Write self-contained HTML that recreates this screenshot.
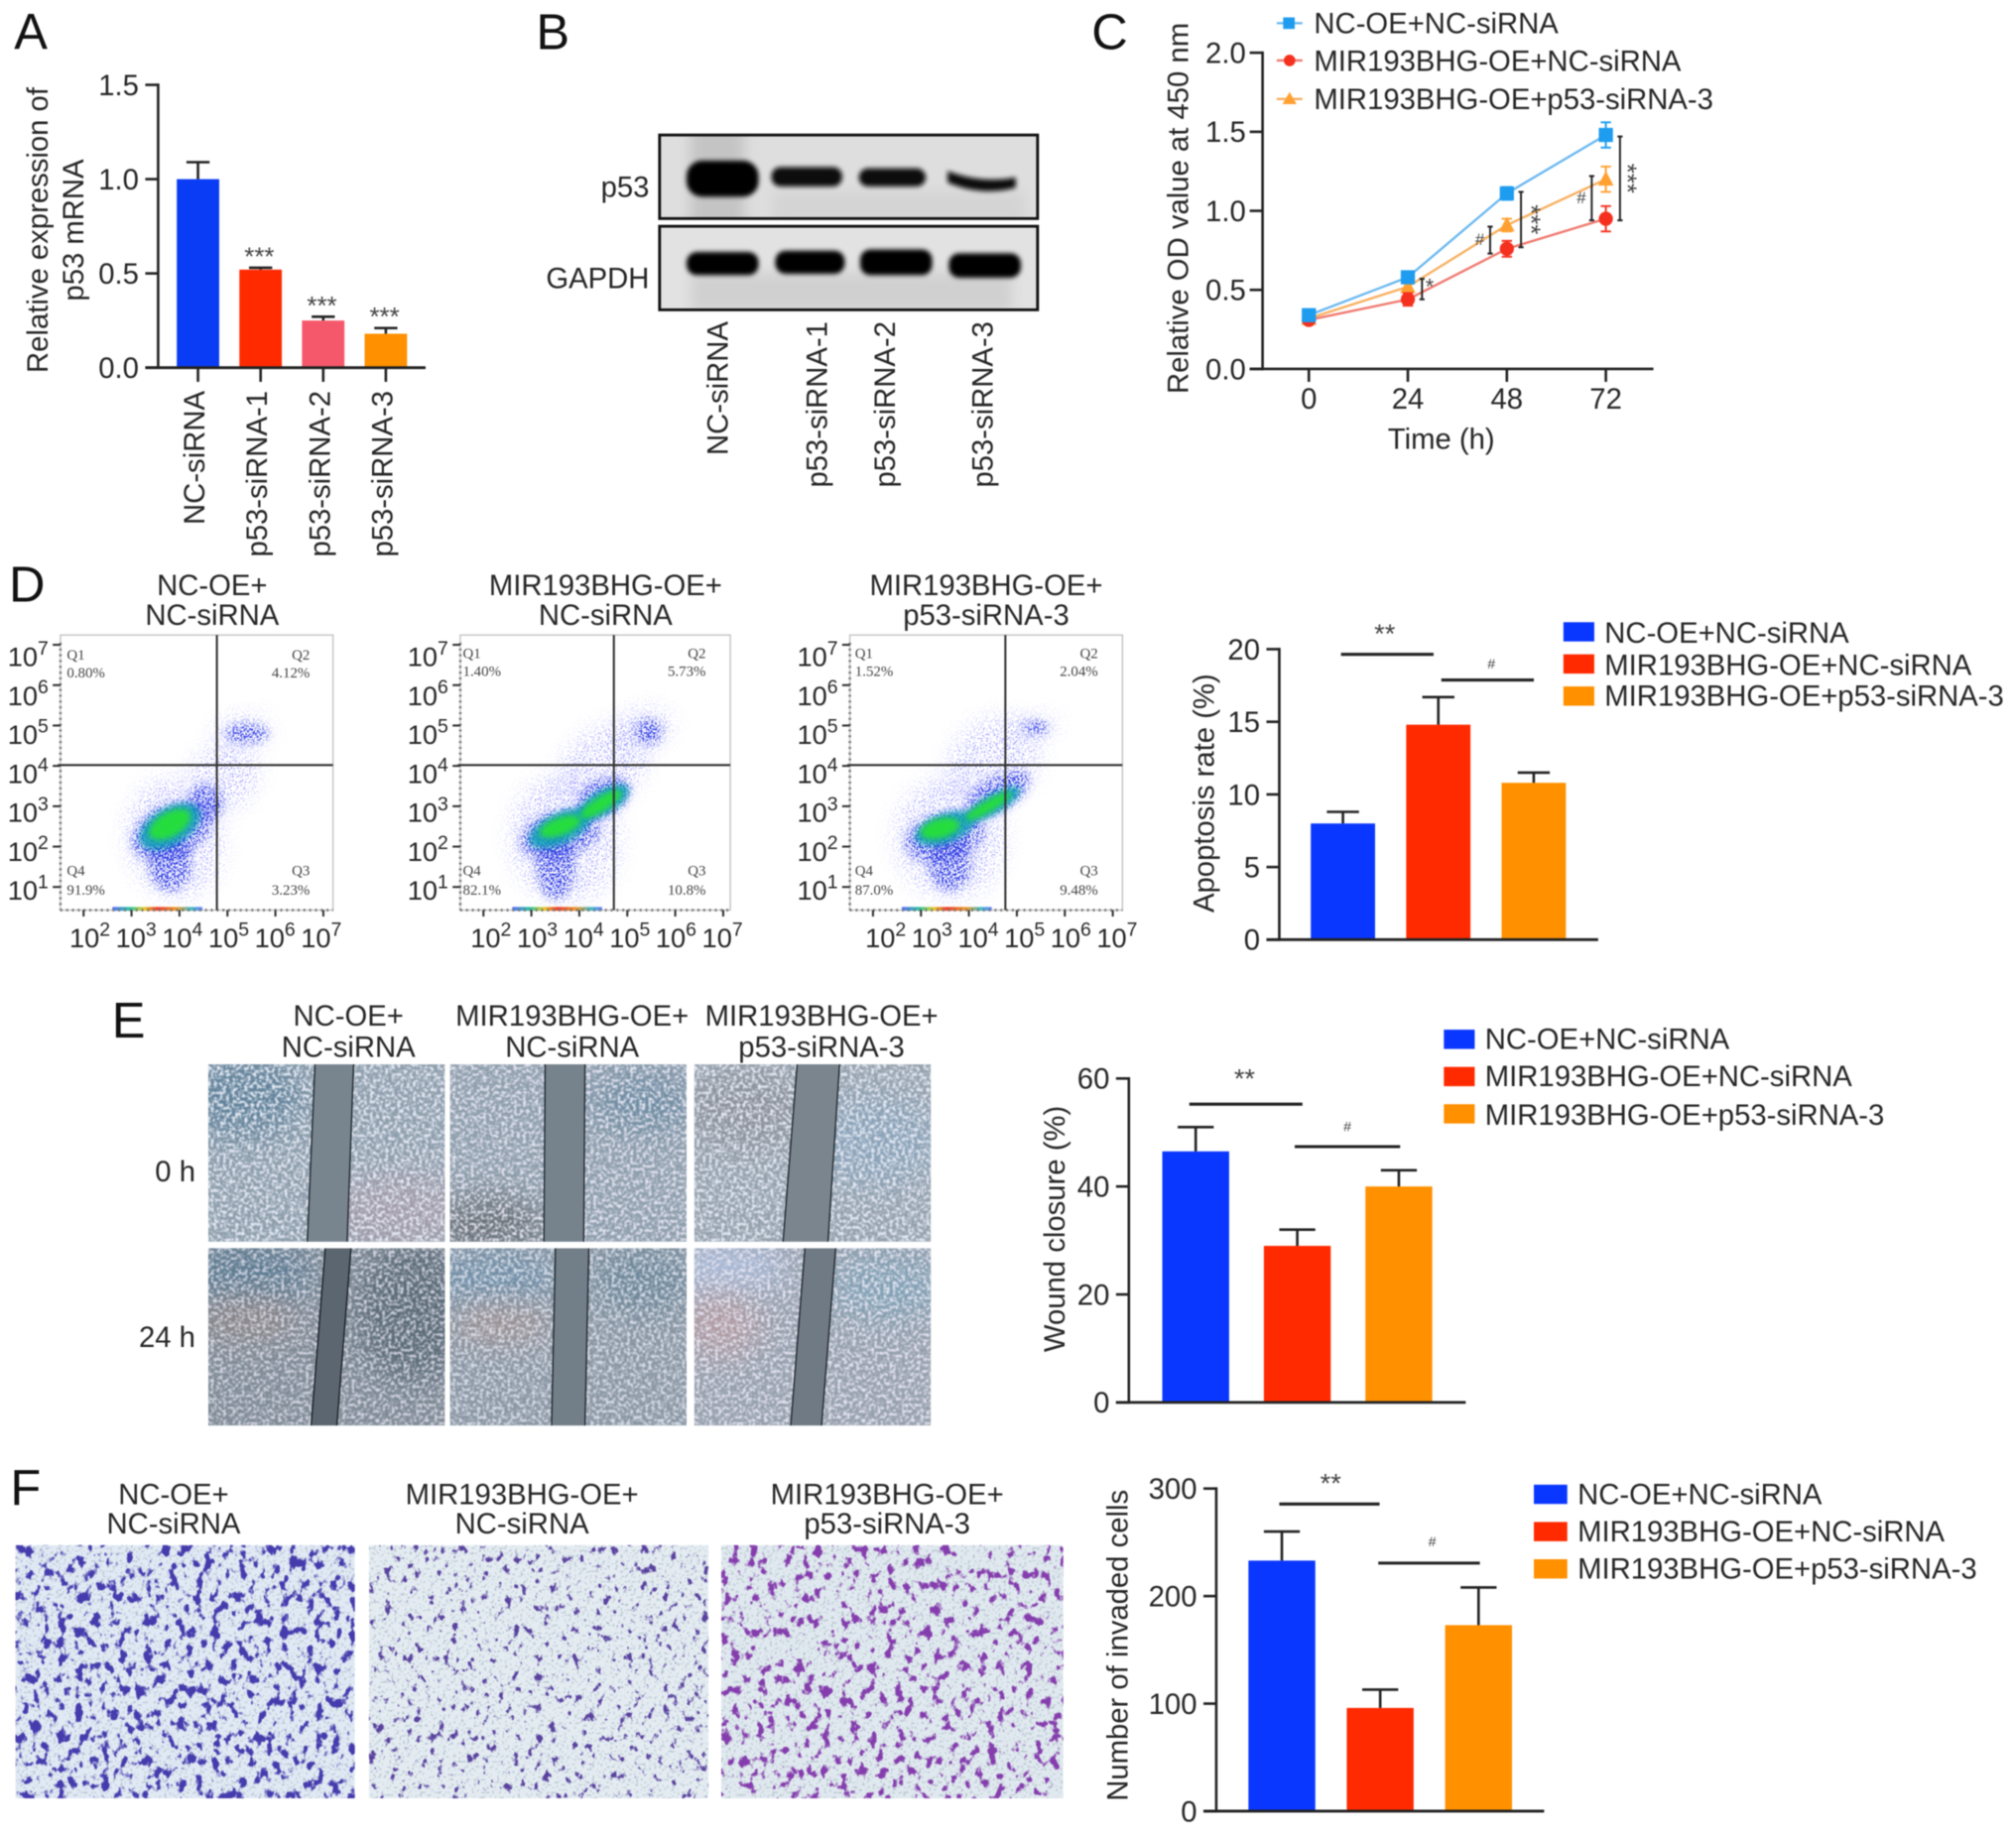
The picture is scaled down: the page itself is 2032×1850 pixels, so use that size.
<!DOCTYPE html>
<html lang="en">
<head>
<meta charset="utf-8">
<title>Multi-panel figure</title>
<style>
html,body{margin:0;padding:0;background:#fff;width:2032px;height:1850px;overflow:hidden}
svg#figure{display:block;filter:blur(.6px)}
text{font-family:"Liberation Sans",sans-serif;fill:#262626;font-size:22.6px}
.letter{font-size:39px;fill:#111}
.q{font-family:"Liberation Serif",serif;font-size:11.5px;fill:#444}
</style>
</head>
<body>
<svg id="figure" xmlns="http://www.w3.org/2000/svg" width="2032" height="1850" viewBox="0 0 1568 1427.5">
<defs>
  <filter id="blur3" x="-40%" y="-100%" width="180%" height="300%"><feGaussianBlur stdDeviation="5"/></filter>
  <filter id="blur2" x="-30%" y="-100%" width="160%" height="300%"><feGaussianBlur stdDeviation="1.8"/></filter>
  <filter id="blurFlow" x="-60%" y="-60%" width="220%" height="220%"><feGaussianBlur stdDeviation="2.2"/></filter>
  <filter id="blurBig" x="-60%" y="-60%" width="220%" height="220%"><feGaussianBlur stdDeviation="12"/></filter>
  <filter id="blurPatch" x="-60%" y="-60%" width="220%" height="220%"><feGaussianBlur stdDeviation="7"/></filter>
  <filter id="speckleFlow" x="-40%" y="-40%" width="180%" height="180%" color-interpolation-filters="sRGB">
    <feGaussianBlur in="SourceGraphic" stdDeviation="8" result="b"/>
    <feTurbulence type="fractalNoise" baseFrequency="0.85" numOctaves="1" seed="5"/>
    <feColorMatrix values="0 0 0 0 0 0 0 0 0 0 0 0 0 0 0 11 0 0 0 -6.2" result="n"/>
    <feComposite in="b" in2="n" operator="in"/>
  </filter>
  <filter id="speckleMid" x="-40%" y="-40%" width="180%" height="180%" color-interpolation-filters="sRGB">
    <feGaussianBlur in="SourceGraphic" stdDeviation="3.5" result="b"/>
    <feTurbulence type="fractalNoise" baseFrequency="0.7" numOctaves="1" seed="9"/>
    <feColorMatrix values="0 0 0 0 0 0 0 0 0 0 0 0 0 0 0 9 0 0 0 -4.3" result="n"/>
    <feComposite in="b" in2="n" operator="in"/>
  </filter>
  <filter id="speckleA" x="0" y="0" width="100%" height="100%" color-interpolation-filters="sRGB">
    <feTurbulence type="fractalNoise" baseFrequency="0.42" numOctaves="2" seed="3"/>
    <feColorMatrix values="0 0 0 0 .90 0 0 0 0 .92 0 0 0 0 .96 5 0 0 0 -2.25"/>
    <feGaussianBlur stdDeviation=".35"/>
  </filter>
  <filter id="speckleB" x="0" y="0" width="100%" height="100%" color-interpolation-filters="sRGB">
    <feTurbulence type="fractalNoise" baseFrequency="0.42" numOctaves="2" seed="11"/>
    <feColorMatrix values="0 0 0 0 .90 0 0 0 0 .90 0 0 0 0 .95 5 0 0 0 -2.3"/>
    <feGaussianBlur stdDeviation=".35"/>
  </filter>
  <filter id="cellsBlue" x="0" y="0" width="100%" height="100%" color-interpolation-filters="sRGB">
    <feTurbulence type="fractalNoise" baseFrequency="0.15 0.11" numOctaves="3" seed="8"/>
    <feColorMatrix values="0 0 0 0 .27 0 0 0 0 .23 0 0 0 0 .68 10 0 0 0 -5.5"/>
  </filter>
  <filter id="cellsThin" x="0" y="0" width="100%" height="100%" color-interpolation-filters="sRGB">
    <feTurbulence type="fractalNoise" baseFrequency="0.17 0.13" numOctaves="3" seed="21"/>
    <feColorMatrix values="0 0 0 0 .35 0 0 0 0 .26 0 0 0 0 .62 10 0 0 0 -6.2"/>
  </filter>
  <filter id="cellsPurple" x="0" y="0" width="100%" height="100%" color-interpolation-filters="sRGB">
    <feTurbulence type="fractalNoise" baseFrequency="0.14 0.11" numOctaves="3" seed="34"/>
    <feColorMatrix values="0 0 0 0 .52 0 0 0 0 .24 0 0 0 0 .68 10 0 0 0 -5.8"/>
  </filter>
  <filter id="grain" x="0" y="0" width="100%" height="100%" color-interpolation-filters="sRGB">
    <feTurbulence type="fractalNoise" baseFrequency="0.5" numOctaves="1" seed="2"/>
    <feColorMatrix values="0 0 0 0 .5 0 0 0 0 .58 0 0 0 0 .64 6 0 0 0 -3.3"/>
  </filter>
  <linearGradient id="rainbow" x1="0" x2="1" y1="0" y2="0">
    <stop offset="0" stop-color="#5a70ff"/><stop offset=".2" stop-color="#30c8a0"/><stop offset=".35" stop-color="#e8d030"/>
    <stop offset=".5" stop-color="#f04030"/><stop offset=".72" stop-color="#f0a030"/><stop offset=".88" stop-color="#40c0d0"/><stop offset="1" stop-color="#7080ff"/>
  </linearGradient>
</defs>

<!-- Panel letters -->
<text class="letter" x="11" y="38">A</text>
<text class="letter" x="417" y="38">B</text>
<text class="letter" x="849" y="38">C</text>
<text class="letter" x="7" y="468">D</text>
<text class="letter" x="87" y="807">E</text>
<text class="letter" x="8" y="1171">F</text>

<!-- Panel A static labels -->
<text transform="rotate(-90 37 179)" x="37" y="179" text-anchor="middle">Relative expression of</text>
<text transform="rotate(-90 65 179)" x="65" y="179" text-anchor="middle">p53 mRNA</text>

<!-- Panel B western blot -->
<g>
  <svg x="513" y="105" width="294" height="65" viewBox="0 0 294 65">
    <rect width="294" height="65" fill="#dedede"/>
    <rect x="24" y="-10" width="42" height="85" fill="#c4c4c4" filter="url(#blur3)"/>
    <rect x="88" y="44" width="196" height="25" fill="#d4d4d4" filter="url(#blur3)"/>
    <rect x="21" y="20" width="56" height="28" rx="12" fill="#000" filter="url(#blur2)"/>
    <rect x="87" y="25" width="55" height="15" rx="7" fill="#0a0a0a" filter="url(#blur2)"/>
    <rect x="155" y="26" width="52" height="14" rx="7" fill="#0a0a0a" filter="url(#blur2)"/>
    <path d="M224 28 Q250 38 277 33 L277 41 Q250 48 224 37Z" fill="#0a0a0a" filter="url(#blur2)"/>
  </svg>
  <rect x="513" y="105" width="294" height="65" fill="none" stroke="#111" stroke-width="2.2"/>
  <svg x="513" y="176" width="294" height="65" viewBox="0 0 294 65">
    <rect width="294" height="65" fill="#e2e2e2"/>
    <rect x="24" y="36" width="250" height="30" fill="#d0d0d0" filter="url(#blur3)"/>
    <rect x="21" y="20" width="56" height="18" rx="8" fill="#000" filter="url(#blur2)"/>
    <rect x="90" y="19" width="54" height="18" rx="8" fill="#000" filter="url(#blur2)"/>
    <rect x="156" y="18" width="56" height="20" rx="8" fill="#000" filter="url(#blur2)"/>
    <rect x="225" y="21" width="56" height="19" rx="8" fill="#000" filter="url(#blur2)"/>
  </svg>
  <rect x="513" y="176" width="294" height="65" fill="none" stroke="#111" stroke-width="2.2"/>
</g>
<text x="505" y="153" text-anchor="end">p53</text>
<text x="505" y="224" text-anchor="end">GAPDH</text>
<text transform="rotate(-90 566 250)" x="566" y="250" text-anchor="end">NC-siRNA</text>
<text transform="rotate(-90 643 250)" x="643" y="250" text-anchor="end">p53-siRNA-1</text>
<text transform="rotate(-90 696 250)" x="696" y="250" text-anchor="end">p53-siRNA-2</text>
<text transform="rotate(-90 772 250)" x="772" y="250" text-anchor="end">p53-siRNA-3</text>

<!-- Panel C static labels -->
<text transform="rotate(-90 924 162)" x="924" y="162" text-anchor="middle">Relative OD value at 450 nm</text>
<text x="1121" y="349" text-anchor="middle">Time (h)</text>
<g>
  <line x1="993" x2="1013" y1="18" y2="18" stroke="#6ab8f0" stroke-width="1.8"/>
  <rect x="998" y="13.5" width="9" height="9" fill="#1e9cf0"/>
  <text x="1022" y="26">NC-OE+NC-siRNA</text>
  <line x1="993" x2="1013" y1="47" y2="47" stroke="#f07a70" stroke-width="1.8"/>
  <circle cx="1003" cy="47" r="4.5" fill="#f5301e"/>
  <text x="1022" y="55">MIR193BHG-OE+NC-siRNA</text>
  <line x1="993" x2="1013" y1="77" y2="77" stroke="#f8b060" stroke-width="1.8"/>
  <path d="M1003 71.5 L1008.5 81 L997.5 81Z" fill="#ffa030"/>
  <text x="1022" y="85">MIR193BHG-OE+p53-siRNA-3</text>
</g>

<!-- Panel D titles -->
<text x="165" y="463" text-anchor="middle">NC-OE+</text>
<text x="165" y="486" text-anchor="middle">NC-siRNA</text>
<text x="471" y="463" text-anchor="middle">MIR193BHG-OE+</text>
<text x="471" y="486" text-anchor="middle">NC-siRNA</text>
<text x="767" y="463" text-anchor="middle">MIR193BHG-OE+</text>
<text x="767" y="486" text-anchor="middle">p53-siRNA-3</text>

<g id="flowLayer"></g>

<text class="q" x="52" y="513">Q1</text><text class="q" x="52" y="527">0.80%</text>
<text class="q" x="241" y="513" text-anchor="end">Q2</text><text class="q" x="241" y="527" text-anchor="end">4.12%</text>
<text class="q" x="52" y="681">Q4</text><text class="q" x="52" y="696">91.9%</text>
<text class="q" x="241" y="681" text-anchor="end">Q3</text><text class="q" x="241" y="696" text-anchor="end">3.23%</text>

<text class="q" x="360" y="512">Q1</text><text class="q" x="360" y="526">1.40%</text>
<text class="q" x="549" y="512" text-anchor="end">Q2</text><text class="q" x="549" y="526" text-anchor="end">5.73%</text>
<text class="q" x="360" y="681">Q4</text><text class="q" x="360" y="696">82.1%</text>
<text class="q" x="549" y="681" text-anchor="end">Q3</text><text class="q" x="549" y="696" text-anchor="end">10.8%</text>

<text class="q" x="665" y="512">Q1</text><text class="q" x="665" y="526">1.52%</text>
<text class="q" x="854" y="512" text-anchor="end">Q2</text><text class="q" x="854" y="526" text-anchor="end">2.04%</text>
<text class="q" x="665" y="681">Q4</text><text class="q" x="665" y="696">87.0%</text>
<text class="q" x="854" y="681" text-anchor="end">Q3</text><text class="q" x="854" y="696" text-anchor="end">9.48%</text>

<!-- Panel D bar chart labels -->
<text transform="rotate(-90 944 617)" x="944" y="617" text-anchor="middle">Apoptosis rate (%)</text>
<g>
  <rect x="1216" y="484" width="24" height="15" fill="#0a37ff"/>
  <text x="1248" y="500">NC-OE+NC-siRNA</text>
  <rect x="1216" y="509" width="24" height="15" fill="#ff2a00"/>
  <text x="1248" y="525">MIR193BHG-OE+NC-siRNA</text>
  <rect x="1216" y="534" width="24" height="15" fill="#ff9000"/>
  <text x="1248" y="549">MIR193BHG-OE+p53-siRNA-3</text>
</g>

<!-- Panel E micrographs -->
<text x="271" y="798" text-anchor="middle">NC-OE+</text>
<text x="271" y="822" text-anchor="middle">NC-siRNA</text>
<text x="445" y="798" text-anchor="middle">MIR193BHG-OE+</text>
<text x="445" y="822" text-anchor="middle">NC-siRNA</text>
<text x="639" y="798" text-anchor="middle">MIR193BHG-OE+</text>
<text x="639" y="822" text-anchor="middle">p53-siRNA-3</text>
<text x="152" y="919" text-anchor="end">0 h</text>
<text x="152" y="1048" text-anchor="end">24 h</text>

<svg x="162" y="828" width="184" height="138" viewBox="0 0 184 138">
  <rect width="184" height="138" fill="#8d9dab"/>
  <ellipse cx="25" cy="25" rx="50" ry="32" fill="#5f8098" filter="url(#blurBig)"/>
  <ellipse cx="150" cy="115" rx="60" ry="30" fill="#a09aa8" filter="url(#blurBig)"/>
  <rect width="184" height="138" filter="url(#speckleA)"/>
  <polygon points="83,0 113,0 108,138 77,138" fill="#78858f"/>
  <path d="M83 0 L77 138 M113 0 L108 138" stroke="#1c2228" stroke-width="1" fill="none"/>
</svg>
<svg x="350" y="828" width="184" height="138" viewBox="0 0 184 138">
  <rect width="184" height="138" fill="#8e9eac"/>
  <ellipse cx="30" cy="125" rx="45" ry="22" fill="#687074" filter="url(#blurBig)"/>
  <ellipse cx="150" cy="30" rx="40" ry="22" fill="#6c8aa0" filter="url(#blurBig)"/>
  <rect width="184" height="138" filter="url(#speckleB)"/>
  <polygon points="74,0 105,0 104,138 73,138" fill="#76838d"/>
  <path d="M74 0 L73 138 M105 0 L104 138" stroke="#1c2228" stroke-width="1" fill="none"/>
</svg>
<svg x="540" y="828" width="184" height="138" viewBox="0 0 184 138">
  <rect width="184" height="138" fill="#94a0ac"/>
  <ellipse cx="40" cy="35" rx="50" ry="28" fill="#8a8f98" filter="url(#blurBig)"/>
  <ellipse cx="140" cy="60" rx="50" ry="35" fill="#8aa2b8" filter="url(#blurBig)"/>
  <rect width="184" height="138" filter="url(#speckleA)"/>
  <polygon points="80,0 113,0 104,138 69,138" fill="#7a858e"/>
  <path d="M80 0 L69 138 M113 0 L104 138" stroke="#1c2228" stroke-width="1" fill="none"/>
</svg>
<svg x="162" y="971" width="184" height="138" viewBox="0 0 184 138">
  <rect width="184" height="138" fill="#7e8a95"/>
  <ellipse cx="30" cy="20" rx="55" ry="26" fill="#5d7a90" filter="url(#blurBig)"/>
  <ellipse cx="160" cy="50" rx="45" ry="55" fill="#5a6a76" filter="url(#blurBig)"/>
  <ellipse cx="30" cy="55" rx="40" ry="15" fill="#8d8585" filter="url(#blurBig)"/>
  <rect width="184" height="138" filter="url(#speckleB)" opacity=".85"/>
  <polygon points="91,0 111,0 100,138 80,138" fill="#5c6670"/>
  <path d="M91 0 L80 138 M111 0 L100 138" stroke="#151a1f" stroke-width="1" fill="none"/>
</svg>
<svg x="350" y="971" width="184" height="138" viewBox="0 0 184 138">
  <rect width="184" height="138" fill="#8995a2"/>
  <ellipse cx="35" cy="25" rx="50" ry="24" fill="#6f8da5" filter="url(#blurBig)"/>
  <ellipse cx="150" cy="25" rx="40" ry="24" fill="#6a8496" filter="url(#blurBig)"/>
  <ellipse cx="40" cy="58" rx="40" ry="14" fill="#a09090" filter="url(#blurBig)"/>
  <rect width="184" height="138" filter="url(#speckleA)" opacity=".85"/>
  <polygon points="82,0 108,0 105,138 79,138" fill="#727e88"/>
  <path d="M82 0 L79 138 M108 0 L105 138" stroke="#1c2228" stroke-width="1" fill="none"/>
</svg>
<svg x="540" y="971" width="184" height="138" viewBox="0 0 184 138">
  <rect width="184" height="138" fill="#959fac"/>
  <ellipse cx="25" cy="15" rx="45" ry="22" fill="#a8b8d4" filter="url(#blurBig)"/>
  <ellipse cx="20" cy="60" rx="32" ry="24" fill="#b09aa0" filter="url(#blurBig)"/>
  <ellipse cx="150" cy="30" rx="45" ry="26" fill="#80a0b4" filter="url(#blurBig)"/>
  <rect width="184" height="138" filter="url(#speckleB)"/>
  <polygon points="86,0 110,0 99,138 75,138" fill="#6f7a84"/>
  <path d="M86 0 L75 138 M110 0 L99 138" stroke="#1c2228" stroke-width="1" fill="none"/>
</svg>

<!-- Panel E chart labels -->
<text transform="rotate(-90 828 956)" x="828" y="956" text-anchor="middle">Wound closure (%)</text>
<g>
  <rect x="1123" y="801" width="24" height="15" fill="#0a37ff"/>
  <text x="1155" y="816">NC-OE+NC-siRNA</text>
  <rect x="1123" y="830" width="24" height="15" fill="#ff2a00"/>
  <text x="1155" y="845">MIR193BHG-OE+NC-siRNA</text>
  <rect x="1123" y="859" width="24" height="15" fill="#ff9000"/>
  <text x="1155" y="875">MIR193BHG-OE+p53-siRNA-3</text>
</g>

<!-- Panel F micrographs -->
<text x="135" y="1170" text-anchor="middle">NC-OE+</text>
<text x="135" y="1193" text-anchor="middle">NC-siRNA</text>
<text x="406" y="1170" text-anchor="middle">MIR193BHG-OE+</text>
<text x="406" y="1193" text-anchor="middle">NC-siRNA</text>
<text x="690" y="1170" text-anchor="middle">MIR193BHG-OE+</text>
<text x="690" y="1193" text-anchor="middle">p53-siRNA-3</text>

<svg x="12" y="1202" width="264" height="197" viewBox="0 0 264 197">
  <rect width="264" height="197" fill="#e0e9f4"/>
  <rect width="264" height="197" filter="url(#grain)" opacity=".4"/>
  <rect width="264" height="197" filter="url(#cellsBlue)"/>
</svg>
<svg x="287" y="1202" width="264" height="197" viewBox="0 0 264 197">
  <rect width="264" height="197" fill="#e4ecf2"/>
  <rect width="264" height="197" filter="url(#grain)" opacity=".4"/>
  <rect width="264" height="197" filter="url(#cellsThin)"/>
</svg>
<svg x="561" y="1202" width="266" height="197" viewBox="0 0 266 197">
  <rect width="266" height="197" fill="#e0e9ef"/>
  <rect width="266" height="197" filter="url(#grain)" opacity=".4"/>
  <rect width="266" height="197" filter="url(#cellsPurple)"/>
</svg>

<!-- Panel F chart labels -->
<text transform="rotate(-90 877 1280)" x="877" y="1280" text-anchor="middle">Number of invaded cells</text>
<g>
  <rect x="1193" y="1155" width="26" height="15" fill="#0a37ff"/>
  <text x="1227" y="1170">NC-OE+NC-siRNA</text>
  <rect x="1193" y="1184" width="26" height="15" fill="#ff2a00"/>
  <text x="1227" y="1199">MIR193BHG-OE+NC-siRNA</text>
  <rect x="1193" y="1213" width="26" height="15" fill="#ff9000"/>
  <text x="1227" y="1228">MIR193BHG-OE+p53-siRNA-3</text>
</g>

<g id="chartLayer"></g>
</svg>

<script>
/* ---------- Panel A data ---------- */
const aCategories = ['NC-siRNA', 'p53-siRNA-1', 'p53-siRNA-2', 'p53-siRNA-3'];
const aValues = [1.0, 0.52, 0.25, 0.18];
const aErrorTops = [1.09, 0.53, 0.27, 0.21];
const aStars = ['', '***', '***', '***'];
const aTicks = [0, 0.5, 1.0, 1.5];
const aTickLabels = ['0.0', '0.5', '1.0', '1.5'];
const aColors = ['#0a3cf5', '#ff2a00', '#f5586a', '#ff9000'];

/* ---------- Panel C data ---------- */
const cTimes = [0, 24, 48, 72];
const cTimeLabels = ['0', '24', '48', '72'];
const cBlue = [0.34, 0.58, 1.11, 1.48];
const cRed = [0.31, 0.44, 0.76, 0.95];
const cOrange = [0.32, 0.52, 0.91, 1.20];
const cBlueErr = [0.03, 0.02, 0.04, 0.08];
const cRedErr = [0.02, 0.04, 0.05, 0.08];
const cOrangeErr = [0.02, 0.02, 0.04, 0.08];
const cTicks = [0, 0.5, 1.0, 1.5, 2.0];
const cTickLabels = ['0.0', '0.5', '1.0', '1.5', '2.0'];

/* ---------- Panel D, E, F bar data ---------- */
const groupNames = ['nc-oe-nc-sirna', 'mir-oe-nc-sirna', 'mir-oe-p53-sirna-3'];
const groupColors = ['#0a37ff', '#ff2a00', '#ff9000'];
const dValues = [8.0, 14.8, 10.8];
const dErrorTops = [8.8, 16.7, 11.5];
const dTicks = [0, 5, 10, 15, 20];
const eValues = [46.5, 29, 40];
const eErrorTops = [51, 32, 43];
const eTicks = [0, 20, 40, 60];
const fValues = [233, 96, 173];
const fErrorTops = [260, 113, 208];
const fTicks = [0, 100, 200, 300];

/* ---------- Flow-cytometry density estimates: [log10 x, log10 y, x spread, y spread, tilt, density level] ---------- */
const flowDecades = [2, 3, 4, 5, 6, 7];
const flowYDecades = [1, 2, 3, 4, 5, 6, 7];
const flowGates = [4.78, 4.72, 4.76];
const flowLevelColors = ['#6a6cff', '#1f2ee0', '#0e9fb8', '#28e038'];
const flowPlot1 = [
  [3.9, 2.2, 1.0, 1.5, -10, 0], [4.9, 3.7, 0.8, 0.8, -40, 0], [5.3, 4.85, 0.6, 0.4, -10, 0],
  [3.85, 2.4, 0.9, 0.65, -25, 1], [3.8, 1.6, 0.45, 0.7, 0, 1], [4.55, 3.1, 0.35, 0.45, -35, 1], [5.4, 4.8, 0.45, 0.24, 0, 1],
  [3.8, 2.5, 0.7, 0.46, -30, 2], [3.8, 2.55, 0.48, 0.3, -30, 3]
];
const flowPlot2 = [
  [3.7, 2.2, 1.15, 1.6, -5, 0], [4.5, 4.0, 1.05, 0.9, -40, 0], [5.3, 4.9, 0.65, 0.5, -20, 0],
  [3.6, 2.3, 0.85, 0.6, -15, 1], [4.5, 3.2, 0.6, 0.45, -30, 1], [3.5, 1.5, 0.4, 0.8, 0, 1], [5.45, 4.85, 0.28, 0.32, 0, 1],
  [3.6, 2.45, 0.7, 0.38, -25, 2], [4.5, 3.1, 0.6, 0.3, -30, 2], [3.6, 2.5, 0.45, 0.22, -20, 3], [4.45, 3.05, 0.5, 0.18, -32, 3]
];
const flowPlot3 = [
  [3.6, 2.2, 1.15, 1.5, -10, 0], [4.5, 4.1, 1.1, 1.0, -45, 0], [5.35, 4.95, 0.5, 0.3, -15, 0],
  [3.5, 2.25, 0.85, 0.6, -15, 1], [4.6, 3.3, 0.75, 0.42, -30, 1], [3.6, 1.6, 0.45, 0.7, 0, 1], [5.4, 4.95, 0.26, 0.16, 0, 1],
  [3.5, 2.45, 0.65, 0.36, -20, 2], [4.5, 3.05, 0.65, 0.24, -30, 2], [3.4, 2.45, 0.42, 0.24, -15, 3], [4.4, 3.0, 0.55, 0.14, -30, 3]
];
const flowPlots = [flowPlot1, flowPlot2, flowPlot3];

/* ---------- helpers ---------- */
const NS = 'http://www.w3.org/2000/svg';
const chartLayer = document.getElementById('chartLayer');
const flowLayer = document.getElementById('flowLayer');
function make(tag, attrs, parent) {
  const node = document.createElementNS(NS, tag);
  for (const k in attrs) node.setAttribute(k, attrs[k]);
  parent.appendChild(node);
  return node;
}

/* ---------- generic bar chart ---------- */
function drawBarChart(o) {
  const g = make('g', {}, chartLayer);
  
  
  const y = v => o.y0 - v / o.max * (o.y0 - o.yTop);
  const x = i => o.firstCenter + i * o.step;

  o.values.forEach((v, i) => {
    const c = x(i);
    const top = y(o.errorTops[i]);
    const bar = make('rect', { x: c - o.barW / 2, y: y(v), width: o.barW, height: o.y0 - y(v), fill: o.colors[i] }, g);
    
    
    const stem = make('line', { x1: c, x2: c, y1: y(v), y2: top, stroke: '#222', 'stroke-width': 2 }, g);
    
    
    const cap = make('line', { x1: c - o.capW / 2, x2: c + o.capW / 2, y1: top, y2: top, stroke: '#222', 'stroke-width': 2 }, g);
    
    
  });

  const yAxis = make('line', { x1: o.axisX, x2: o.axisX, y1: o.yTop - 1, y2: o.y0 + 1, stroke: '#222', 'stroke-width': 2 }, g);
  
  
  const xAxis = make('line', { x1: o.axisX - 10, x2: o.xEnd, y1: o.y0, y2: o.y0, stroke: '#222', 'stroke-width': 2.2 }, g);
  
  

  o.ticks.forEach((t, i) => {
    const ty = y(t);
    const mark = make('line', { x1: o.axisX - 10, x2: o.axisX, y1: ty, y2: ty, stroke: '#222', 'stroke-width': 2 }, g);
    
    
    const lab = make('text', { x: o.axisX - 15, y: ty + 8, 'text-anchor': 'end' }, g);
    lab.textContent = o.tickLabels ? o.tickLabels[i] : String(t);
    
    
  });

  (o.sig || []).forEach(s => {
    const line = make('line', { x1: s.x1, x2: s.x2, y1: s.y, y2: s.y, stroke: '#222', 'stroke-width': 2.4 }, g);
    
    
    const mark = make('text', { x: s.lx, y: s.y - s.up, 'text-anchor': 'middle', style: 'font-size:' + s.size + 'px;fill:#444' }, g);
    mark.textContent = s.label;
    
    
  });
}

/* Panel A */
drawBarChart({
  name: 'chart-a-p53-expression', y0: 286, yTop: 66, max: 1.5, axisX: 123, xEnd: 331,
  firstCenter: 154, step: 48.7, barW: 33, capW: 18,
  values: aValues, errorTops: aErrorTops, ticks: aTicks, tickLabels: aTickLabels,
  colors: aColors, categories: aCategories
});
(function () {
  const y = v => 286 - v / 1.5 * 220;
  aCategories.forEach((name, i) => {
    const c = 154 + i * 48.7;
    const tick = make('line', { x1: c, x2: c, y1: 286, y2: 297, stroke: '#222', 'stroke-width': 2 }, chartLayer);
    
    
    const lab = make('text', { x: c + 5, y: 304, 'text-anchor': 'end', transform: 'rotate(-90 ' + (c + 5) + ' 304)' }, chartLayer);
    lab.textContent = name;
    
    
    if (aStars[i]) {
      const star = make('text', { x: c - 1, y: y(aErrorTops[i]) - 2, 'text-anchor': 'middle', style: 'font-size:20px;fill:#444' }, chartLayer);
      star.textContent = aStars[i];
      
      
    }
  });
})();

/* Panel D bars */
drawBarChart({
  name: 'chart-d-apoptosis', y0: 731, yTop: 505, max: 20, axisX: 995, xEnd: 1243,
  firstCenter: 1044.5, step: 74.2, barW: 50, capW: 25,
  values: dValues, errorTops: dErrorTops, ticks: dTicks, colors: groupColors, categories: groupNames,
  sig: [{ x1: 1043, x2: 1115, lx: 1077, y: 509, label: '**', up: 9, size: 21 }, { x1: 1121, x2: 1193, lx: 1160, y: 529, label: '#', up: 9, size: 11 }]
});
/* Panel E bars */
drawBarChart({
  name: 'chart-e-wound-closure', y0: 1091, yTop: 839, max: 60, axisX: 878, xEnd: 1140,
  firstCenter: 930, step: 79, barW: 52, capW: 28,
  values: eValues, errorTops: eErrorTops, ticks: eTicks, colors: groupColors, categories: groupNames,
  sig: [{ x1: 925, x2: 1013, lx: 968, y: 859, label: '**', up: 13, size: 21 }, { x1: 1007, x2: 1089, lx: 1048, y: 892, label: '#', up: 12, size: 11 }]
});
/* Panel F bars */
drawBarChart({
  name: 'chart-f-invaded-cells', y0: 1409, yTop: 1158, max: 300, axisX: 946, xEnd: 1201,
  firstCenter: 997, step: 76.5, barW: 52, capW: 28,
  values: fValues, errorTops: fErrorTops, ticks: fTicks, colors: groupColors, categories: groupNames,
  sig: [{ x1: 995, x2: 1073, lx: 1035, y: 1170, label: '**', up: 9, size: 21 }, { x1: 1072, x2: 1151, lx: 1114, y: 1216, label: '#', up: 13, size: 11 }]
});

/* ---------- Panel C line chart ---------- */
(function () {
  const g = make('g', {}, chartLayer);
  
  
  const x = t => 1018 + t / 72 * 231;
  const y = v => 287 - v / 2 * 246;

  const yAxis = make('line', { x1: 982, x2: 982, y1: y(2) - 1, y2: y(0) + 1, stroke: '#222', 'stroke-width': 2 }, g);
  
  
  const xAxis = make('line', { x1: 972, x2: 1286, y1: y(0), y2: y(0), stroke: '#222', 'stroke-width': 2 }, g);
  
  

  cTicks.forEach((t, i) => {
    const mark = make('line', { x1: 972, x2: 982, y1: y(t), y2: y(t), stroke: '#222', 'stroke-width': 2 }, g);
    
    
    const lab = make('text', { x: 969, y: y(t) + 8, 'text-anchor': 'end' }, g);
    lab.textContent = cTickLabels[i];
    
    
  });
  cTimes.forEach((t, i) => {
    const mark = make('line', { x1: x(t), x2: x(t), y1: y(0), y2: y(0) + 10, stroke: '#222', 'stroke-width': 2 }, g);
    
    
    const lab = make('text', { x: x(t), y: 318, 'text-anchor': 'middle' }, g);
    lab.textContent = cTimeLabels[i];
    
    
  });

  const series = [
    { key: 'orange', vals: cOrange, errs: cOrangeErr, line: '#f8b060', mark: '#ffa030', kind: 'tri' },
    { key: 'red', vals: cRed, errs: cRedErr, line: '#f07a70', mark: '#f5301e', kind: 'circle' },
    { key: 'blue', vals: cBlue, errs: cBlueErr, line: '#6ab8f0', mark: '#1e9cf0', kind: 'square' }
  ];
  series.forEach(s => {
    const path = make('polyline', { points: cTimes.map((t, i) => x(t) + ',' + y(s.vals[i])).join(' '), fill: 'none', stroke: s.line, 'stroke-width': 1.8 }, g);
    
    
    cTimes.forEach((t, i) => {
      const px = x(t), py = y(s.vals[i]);
      const hi = y(s.vals[i] + s.errs[i]), lo = y(s.vals[i] - s.errs[i]);
      const err = make('path', { d: 'M' + (px - 4) + ' ' + hi + 'H' + (px + 4) + 'M' + px + ' ' + hi + 'V' + lo + 'M' + (px - 4) + ' ' + lo + 'H' + (px + 4), stroke: s.mark, 'stroke-width': 1.5, fill: 'none' }, g);
      
      
      let m;
      if (s.kind === 'square') m = make('rect', { x: px - 5.5, y: py - 5.5, width: 11, height: 11, fill: s.mark }, g);
      else if (s.kind === 'circle') m = make('circle', { cx: px, cy: py, r: 5.5, fill: s.mark }, g);
      else m = make('path', { d: 'M' + px + ' ' + (py - 6.5) + 'L' + (px + 6) + ' ' + (py + 5) + 'L' + (px - 6) + ' ' + (py + 5) + 'Z', fill: s.mark }, g);
      
      
    });
  });

  /* significance brackets: anchored to the two series they compare */
  const brackets = [
    { t: 24, dx: 11, a: cRed, b: cOrange, pad: [0, 0.05], label: '*', lx: 6, rot: 0, size: 17 },
    { t: 48, dx: -13, a: cRed, b: cOrange, pad: [-0.03, -0.01], label: '#', lx: -8, rot: 0, size: 13 },
    { t: 48, dx: 11, a: cRed, b: cBlue, pad: [0.01, 0.01], label: '***', lx: 1, rot: 90, size: 20 },
    { t: 72, dx: -11, a: cRed, b: cOrange, pad: [-0.01, 0.02], label: '#', lx: -8, rot: 0, size: 13 },
    { t: 72, dx: 11, a: cRed, b: cBlue, pad: [-0.01, -0.01], label: '***', lx: -1, rot: 90, size: 20 }
  ];
  brackets.forEach(b => {
    const i = cTimes.indexOf(b.t);
    const bx = x(b.t) + b.dx;
    const y1 = y(b.a[i] + b.pad[0]), y2 = y(b.b[i] + b.pad[1]);
    const br = make('path', { d: 'M' + (bx - 2) + ' ' + y1 + 'H' + (bx + 2) + 'M' + bx + ' ' + y1 + 'V' + y2 + 'M' + (bx - 2) + ' ' + y2 + 'H' + (bx + 2), stroke: '#222', 'stroke-width': 1.5, fill: 'none' }, g);
    
    
    const my = (y1 + y2) / 2, mx = bx + b.lx;
    const lab = make('text', { x: mx, y: my + (b.rot ? 0 : 4), 'text-anchor': 'middle', style: 'font-size:' + b.size + 'px;fill:#444', transform: b.rot ? 'rotate(90 ' + mx + ' ' + my + ')' : '' }, g);
    lab.textContent = b.label;
    
    
  });
})();

/* ---------- Panel D flow plots ---------- */
function drawFlow(index, left, width, labelOffset) {
  const blobs = flowPlots[index];
  const top = 494, bottom = 708;
  const fx = l => left + 18 + (l - 2) * 37.3;
  const fy = l => 690 - (l - 1) * 31.4;
  const g = make('g', {}, flowLayer);
  
  

  const box = make('rect', { x: left, y: top, width: width, height: bottom - top, fill: '#fff', stroke: '#c8c8c8', 'stroke-width': 1.2 }, g);
  
  

  blobs.forEach(b => {
    const cx = fx(b[0]), cy = fy(b[1]);
    const filters = ['url(#speckleFlow)', 'url(#speckleMid)', 'url(#blurFlow)', 'url(#blurFlow)'];
    const opacities = [0.75, 0.95, 0.85, 0.95];
    const blob = make('ellipse', {
      cx: cx, cy: cy, rx: b[2] * 37.3, ry: b[3] * 31.4,
      transform: 'rotate(' + b[4] + ' ' + cx + ' ' + cy + ')',
      fill: flowLevelColors[b[5]],
      filter: filters[b[5]],
      opacity: opacities[b[5]]
    }, g);
    
    
  });

  const strip = make('rect', { x: fx(2.6), y: bottom - 2.5, width: 70, height: 3, fill: 'url(#rainbow)' }, g);
  
  

  const leftAxis = make('line', { x1: left, x2: left, y1: top + 6, y2: bottom, stroke: '#777', 'stroke-width': 2, 'stroke-dasharray': '1.5 3' }, g);
  
  
  const bottomAxis = make('line', { x1: left, x2: left + width, y1: bottom, y2: bottom, stroke: '#777', 'stroke-width': 2, 'stroke-dasharray': '1.5 3' }, g);
  
  

  const gate = fx(flowGates[index]);
  const vGate = make('line', { x1: gate, x2: gate, y1: top, y2: bottom, stroke: '#333', 'stroke-width': 1.6 }, g);
  
  
  const hGate = make('line', { x1: left - 2, x2: left + width, y1: fy(4.02), y2: fy(4.02), stroke: '#333', 'stroke-width': 1.6 }, g);
  
  

  flowYDecades.forEach(d => {
    const ty = fy(d);
    const tick = make('line', { x1: left - 6, x2: left, y1: ty, y2: ty, stroke: '#333', 'stroke-width': 1.6 }, g);
    
    
    const lab = make('text', { x: left - 41, y: 700 - (d - 1) * 30.3, style: 'font-size:21px' }, g);
    
    
    const base = make('tspan', {}, lab);
    base.textContent = '10';
    const sup = make('tspan', { dy: -9, style: 'font-size:15px' }, lab);
    sup.textContent = String(d);
  });
  flowDecades.forEach(d => {
    const tx = fx(d);
    const tick = make('line', { x1: tx, x2: tx, y1: bottom, y2: bottom + 5, stroke: '#333', 'stroke-width': 1.6 }, g);
    
    
    const lab = make('text', { x: left + labelOffset + (d - 2) * 36, y: 737, style: 'font-size:21px' }, g);
    
    
    const base = make('tspan', {}, lab);
    base.textContent = '10';
    const sup = make('tspan', { dy: -9, style: 'font-size:15px' }, lab);
    sup.textContent = String(d);
  });
}
drawFlow(0, 47, 212, 7);
drawFlow(1, 358, 210, 8);
drawFlow(2, 661, 212, 12);
</script>
</body>
</html>
